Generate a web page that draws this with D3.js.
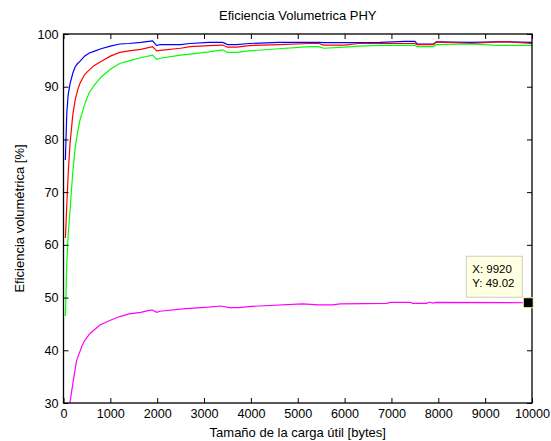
<!DOCTYPE html>
<html lang="en">
<head>
<meta charset="utf-8">
<title>Eficiencia Volumetrica PHY</title>
<script src="https://cdn.jsdelivr.net/npm/d3@7"></script>
<style>
  body { margin: 0; background: #fff; }
  svg text { font-family: "Liberation Sans", Arial, Helvetica, sans-serif; fill: #000; }
  .axis path, .axis line { stroke: #000; }
  .curve { fill: none; stroke-width: 1.2px; }
</style>
</head>
<body>
<div id="chart"></div>
<script>
// payload sizes (bytes) shared by the three upper curves
var payload = [40, 70, 100, 140, 200, 250, 300, 350, 450, 550, 650, 800, 1000, 1200, 1400, 1650, 1900, 1990, 2060, 2500, 2700, 3100, 3400, 3500, 3700, 3950, 4600, 5250, 5450, 5550, 6000, 6300, 6750, 7300, 7500, 7550, 7900, 7960, 8700, 9250, 9500, 10000];

var blueVals = [76.1, 85.0, 88.5, 90.6, 92.6, 93.8, 94.4, 94.8, 95.8, 96.4, 96.7, 97.2, 97.7, 98.1, 98.2, 98.4, 98.7, 97.8, 98.0, 98.0, 98.2, 98.4, 98.4, 98.0, 98.0, 98.2, 98.4, 98.4, 98.4, 98.35, 98.35, 98.35, 98.4, 98.6, 98.6, 98.1, 98.1, 98.5, 98.4, 98.5, 98.5, 98.4];
var redVals = [61.3, 67.5, 73.5, 79.3, 84.8, 87.5, 89.3, 90.6, 92.3, 93.2, 94.0, 94.8, 95.8, 96.5, 96.8, 97.1, 97.6, 96.8, 96.9, 97.3, 97.6, 97.8, 97.9, 97.5, 97.5, 97.8, 98.0, 98.2, 98.2, 97.9, 97.9, 98.2, 98.2, 98.2, 98.2, 98.0, 98.0, 98.5, 98.2, 98.5, 98.5, 98.2];
var greenVals = [46.5, 56.5, 62.0, 66.6, 74.0, 78.5, 81.3, 83.6, 86.6, 88.9, 90.2, 91.8, 93.3, 94.4, 94.9, 95.5, 96.0, 95.2, 95.4, 96.0, 96.2, 96.6, 97.0, 96.5, 96.5, 96.8, 97.2, 97.6, 97.6, 97.3, 97.5, 97.7, 97.85, 97.85, 97.85, 97.6, 97.6, 98.0, 98.1, 97.85, 97.85, 97.85];

// lower (magenta) curve
var payloadPHY = [130, 140, 210, 280, 390, 450, 565, 780, 1000, 1200, 1400, 1650, 1850, 1900, 1990, 2060, 2600, 3100, 3350, 3550, 3750, 3950, 5100, 5450, 5750, 5900, 6900, 6970, 7400, 7450, 7750, 7820, 7880, 7960, 9920, 10000];
var magentaVals = [29.5, 30.2, 34.3, 38.1, 40.7, 41.8, 43.2, 44.8, 45.7, 46.4, 46.9, 47.2, 47.6, 47.6, 47.2, 47.4, 47.9, 48.2, 48.4, 48.1, 48.1, 48.3, 48.8, 48.6, 48.6, 48.8, 48.9, 49.1, 49.1, 48.9, 48.9, 49.15, 48.95, 49.1, 49.02, 49.02];

var xTicks = [0, 1000, 2000, 3000, 4000, 5000, 6000, 7000, 8000, 9000, 10000];
var yTicks = [30, 40, 50, 60, 70, 80, 90, 100];

var tipX = 9920, tipY = 49.02;

var width = 551, height = 441;
var margin = {top: 34, right: 19, bottom: 38, left: 63.5};
var w = width - margin.left - margin.right,
    h = height - margin.top - margin.bottom;

var svg = d3.select("#chart").append("svg")
    .attr("width", width)
    .attr("height", height);

svg.append("rect").attr("width", width).attr("height", height).attr("fill", "#fff");

var g = svg.append("g").attr("transform", "translate(" + margin.left + "," + margin.top + ")");

var x = d3.scaleLinear().domain([0, 10000]).range([0, w]);
var y = d3.scaleLinear().domain([30, 100]).range([h, 0]);

g.append("clipPath").attr("id", "clip")
  .append("rect").attr("width", w).attr("height", h);

var series = [
  {xs: payload, ys: blueVals, color: "#0000ff"},
  {xs: payload, ys: redVals, color: "#ff0000"},
  {xs: payload, ys: greenVals, color: "#00ff00"},
  {xs: payloadPHY, ys: magentaVals, color: "#ff00ff"}
];

var line = d3.line()
    .x(function(d) { return x(d[0]); })
    .y(function(d) { return y(d[1]); });

g.append("g").attr("clip-path", "url(#clip)")
  .selectAll("path")
  .data(series)
  .enter().append("path")
    .attr("class", "curve")
    .attr("stroke", function(d) { return d.color; })
    .attr("d", function(d) { return line(d.xs.map(function(v, i) { return [v, d.ys[i]]; })); });

// axes, ticks pointing inward on all four sides
var fmt = d3.format("d");
g.append("g").attr("class", "axis")
    .attr("transform", "translate(0," + h + ")")
    .call(d3.axisBottom(x).tickValues(xTicks).tickFormat(fmt).tickSizeInner(-5).tickSizeOuter(0).tickPadding(6))
    .call(function(s) { s.select(".domain").remove(); });
g.append("g").attr("class", "axis")
    .call(d3.axisLeft(y).tickValues(yTicks).tickFormat(fmt).tickSizeInner(-5).tickSizeOuter(0).tickPadding(5))
    .call(function(s) { s.select(".domain").remove(); });
g.append("g").attr("class", "axis")
    .call(d3.axisTop(x).tickValues(xTicks).tickFormat("").tickSizeInner(-5).tickSizeOuter(0))
    .call(function(s) { s.select(".domain").remove(); });
g.append("g").attr("class", "axis")
    .attr("transform", "translate(" + w + ",0)")
    .call(d3.axisRight(y).tickValues(yTicks).tickFormat("").tickSizeInner(-5).tickSizeOuter(0))
    .call(function(s) { s.select(".domain").remove(); });

g.selectAll(".axis text").attr("font-size", 12.6).style("font-family", '"Liberation Sans", Arial, sans-serif');

g.append("rect")
    .attr("width", w).attr("height", h)
    .attr("fill", "none").attr("stroke", "#000").attr("stroke-width", 1.3);

// titles
svg.append("text")
    .attr("x", margin.left + w / 2).attr("y", 20)
    .attr("text-anchor", "middle").attr("font-size", 13)
    .text("Eficiencia Volumetrica PHY");
svg.append("text")
    .attr("x", margin.left + w / 2).attr("y", 437)
    .attr("text-anchor", "middle").attr("font-size", 13)
    .text("Tamaño de la carga útil [bytes]");
svg.append("text")
    .attr("transform", "translate(24," + (margin.top + h / 2) + ") rotate(-90)")
    .attr("text-anchor", "middle").attr("font-size", 13)
    .text("Eficiencia volumétrica [%]");

// data tip
var px = x(tipX), py = y(tipY);
var tip = g.append("g");
tip.append("rect")
    .attr("x", px - 62).attr("y", py - 46.5)
    .attr("width", 56).attr("height", 41)
    .attr("fill", "#ffffe1").attr("stroke", "#cfcfbf");
tip.append("text").attr("x", px - 56).attr("y", py - 29.5).attr("font-size", 11.5).text("X: " + tipX);
tip.append("text").attr("x", px - 56).attr("y", py - 15.5).attr("font-size", 11.5).text("Y: " + tipY.toFixed(2));
tip.append("rect")
    .attr("x", px - 5).attr("y", py - 5)
    .attr("width", 10).attr("height", 10)
    .attr("fill", "#000").attr("stroke", "#ffffcc").attr("stroke-width", 1);
</script>
</body>
</html>
